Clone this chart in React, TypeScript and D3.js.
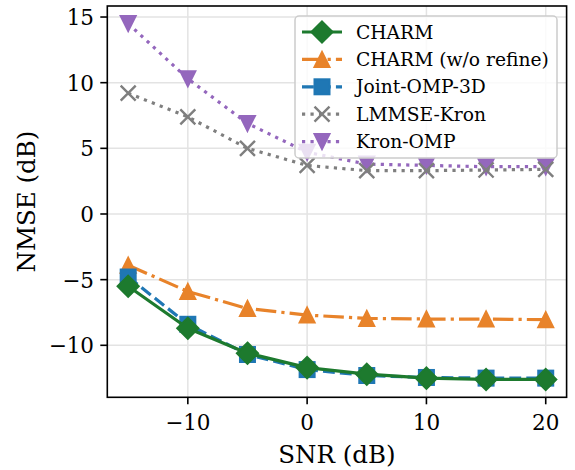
import React from "react";
import * as d3 from "d3";

const snr = [-15, -10, -5, 0, 5, 10, 15, 20];
const charm = [-5.5, -8.7, -10.6, -11.7, -12.2, -12.5, -12.6, -12.6];
const charmNoRefine = [-3.9, -5.9, -7.2, -7.7, -7.95, -8.0, -8.0, -8.05];
const jointOmp3d = [-4.8, -8.4, -10.7, -11.85, -12.3, -12.45, -12.5, -12.5];
const lmmseKron = [9.2, 7.4, 5.0, 3.7, 3.3, 3.3, 3.35, 3.4];
const kronOmp = [14.5, 10.3, 6.9, 4.7, 3.8, 3.7, 3.6, 3.6];
const xTicks = [-10, 0, 10, 20];
const yTicks = [-10, -5, 0, 5, 10, 15];

const W = 575, H = 470;
const L = 107.3, R = 566.6, T = 6, B = 397.3;
const FONT = "DejaVu Serif, serif";
const LW = 3.2;

type Series = { name: string; values: number[]; color: string; dash: string | null; marker: string };

const series: Series[] = [
  { name: "CHARM", values: charm, color: "#1d7a2e", dash: null, marker: "D" },
  { name: "CHARM (w/o refine)", values: charmNoRefine, color: "#e8832a", dash: `${6.4 * LW} ${1.6 * LW} ${1 * LW} ${1.6 * LW}`, marker: "^" },
  { name: "Joint-OMP-3D", values: jointOmp3d, color: "#1f77b4", dash: `${3.7 * LW} ${1.6 * LW}`, marker: "s" },
  { name: "LMMSE-Kron", values: lmmseKron, color: "#7f7f7f", dash: `${1 * LW} ${1.65 * LW}`, marker: "x" },
  { name: "Kron-OMP", values: kronOmp, color: "#9467bd", dash: `${1 * LW} ${1.65 * LW}`, marker: "v" },
];
const drawOrder = [4, 3, 1, 2, 0];

const MS = 15;

function Marker({ type, x, y, color }: { type: string; x: number; y: number; color: string }) {
  const h = MS / 2;
  if (type === "D") {
    const d = h * Math.SQRT2;
    return <path d={`M${x},${y - d}L${x + d},${y}L${x},${y + d}L${x - d},${y}Z`} fill={color} stroke={color} strokeWidth={2} strokeLinejoin="miter" />;
  }
  if (type === "s") {
    return <rect x={x - h} y={y - h} width={MS} height={MS} fill={color} stroke={color} strokeWidth={2} />;
  }
  if (type === "^") {
    return <path d={`M${x},${y - h}L${x + h},${y + h}L${x - h},${y + h}Z`} fill={color} stroke={color} strokeWidth={2} strokeLinejoin="miter" />;
  }
  if (type === "v") {
    return <path d={`M${x},${y + h}L${x + h},${y - h}L${x - h},${y - h}Z`} fill={color} stroke={color} strokeWidth={2} strokeLinejoin="miter" />;
  }
  return (
    <path d={`M${x - h},${y - h}L${x + h},${y + h}M${x - h},${y + h}L${x + h},${y - h}`} stroke={color} strokeWidth={2.4} fill="none" />
  );
}

export default function App() {
  const x = d3.scaleLinear().domain([-16.75, 21.75]).range([L, R]);
  const y = d3.scaleLinear().domain([-13.96, 15.84]).range([B, T]);
  const line = d3.line<[number, number]>().x((d) => x(d[0])).y((d) => y(d[1]));

  const legX = 295, legY = 16, legW = 262, legH = 142;
  const rowY0 = 32, rowStep = 27.4;

  return (
    <svg width={W} height={H} style={{ position: "absolute", left: 0, top: 0, background: "#fff" }} fontFamily={FONT}>
      <defs>
        <clipPath id="plot">
          <rect x={L} y={T} width={R - L} height={B - T} />
        </clipPath>
      </defs>
      {xTicks.map((t) => (
        <line key={"gx" + t} x1={x(t)} x2={x(t)} y1={T} y2={B} stroke="#e3e3e3" strokeWidth={1.5} />
      ))}
      {yTicks.map((t) => (
        <line key={"gy" + t} x1={L} x2={R} y1={y(t)} y2={y(t)} stroke="#e3e3e3" strokeWidth={1.5} />
      ))}
      <g clipPath="url(#plot)">
        {drawOrder.map((i) => {
          const s = series[i];
          const pts = snr.map((v, k) => [v, s.values[k]] as [number, number]);
          return (
            <g key={s.name}>
              <path d={line(pts) || ""} fill="none" stroke={s.color} strokeWidth={LW} strokeDasharray={s.dash || undefined} strokeLinejoin="round" />
              {pts.map((p, k) => (
                <Marker key={k} type={s.marker} x={x(p[0])} y={y(p[1])} color={s.color} />
              ))}
            </g>
          );
        })}
      </g>
      <rect x={L} y={T} width={R - L} height={B - T} fill="none" stroke="#000" strokeWidth={1.6} />
      {xTicks.map((t) => (
        <g key={"tx" + t}>
          <line x1={x(t)} x2={x(t)} y1={B} y2={B + 7} stroke="#000" strokeWidth={1.6} />
          <text x={x(t)} y={430} textAnchor="middle" fontSize={21.5} fill="#000">
            {t < 0 ? "\u2212" + Math.abs(t) : String(t)}
          </text>
        </g>
      ))}
      {yTicks.map((t) => (
        <g key={"ty" + t}>
          <line x1={L - 7} x2={L} y1={y(t)} y2={y(t)} stroke="#000" strokeWidth={1.6} />
          <text x={94} y={y(t) + 8} textAnchor="end" fontSize={21.5} fill="#000">
            {t < 0 ? "\u2212" + Math.abs(t) : String(t)}
          </text>
        </g>
      ))}
      <text x={(L + R) / 2} y={463} textAnchor="middle" fontSize={24.5} fill="#000">SNR (dB)</text>
      <text transform={`translate(35,${(T + B) / 2}) rotate(-90)`} textAnchor="middle" fontSize={24.5} fill="#000">NMSE (dB)</text>
      <rect x={legX} y={legY} width={legW} height={legH} rx={4} fill="#fff" fillOpacity={0.8} stroke="#cccccc" strokeWidth={1.5} />
      {series.map((s, i) => {
        const ry = rowY0 + i * rowStep;
        return (
          <g key={"leg" + s.name}>
            <line x1={302} x2={342} y1={ry} y2={ry} stroke={s.color} strokeWidth={LW} strokeDasharray={s.dash || undefined} />
            <Marker type={s.marker} x={322} y={ry} color={s.color} />
            <text x={356} y={ry + 6.5} fontSize={18.7} fill="#000">{s.name}</text>
          </g>
        );
      })}
    </svg>
  );
}
